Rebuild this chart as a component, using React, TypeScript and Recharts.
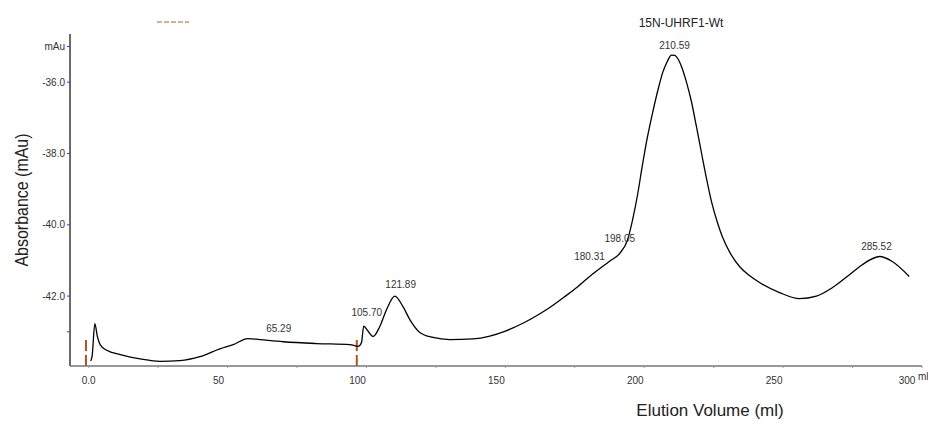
import React from 'react';
import { LineChart, Line, XAxis, YAxis, ReferenceLine, ReferenceDot } from 'recharts';

// UV trace, elution volume (ml) vs absorbance (mAu)
const volumes = [
  0.7, 1.2, 2.2, 3.1, 4.1, 6.5, 11.3, 18.5, 25.6, 32.8, 40, 47.2, 52, 57.3, 61.6, 70, 82, 94, 97, 98.2,
  99, 100.5, 102.4, 104.8, 107.2, 110.2, 113.1, 115.6, 119.2, 123.9, 130, 138.3, 144.4, 150, 156.3, 162.3,
  166, 172, 175.7, 181.4, 187.5, 191.2, 194, 195.8, 197.5, 199.4, 201, 203, 205, 206.6, 208.3, 209.8, 211,
  212, 213.5, 215.2, 217, 218.8, 220.6, 222.4, 224.3, 226.4, 228.2, 231, 234.3, 238, 241.5, 248.7, 255.9,
  262, 267.8, 273.9, 278.5, 284.7, 289.3, 295.4,
];
const absorbance = [
  -43.82, -43.69, -42.77, -43.13, -43.36, -43.52, -43.64, -43.76, -43.83, -43.81, -43.7, -43.48, -43.36,
  -43.19, -43.22, -43.28, -43.33, -43.36, -43.41, -43.3, -42.84, -42.98, -43.13, -42.85, -42.38, -42.0,
  -42.29, -42.66, -43.02, -43.16, -43.22, -43.2, -43.12, -42.98, -42.76, -42.5, -42.32, -41.98, -41.76,
  -41.38, -41.02, -40.8, -40.42, -39.86, -39.2, -38.3, -37.6, -36.86, -36.2, -35.74, -35.42, -35.24,
  -35.25, -35.33, -35.58, -36.0, -36.55, -37.25, -37.98, -38.7, -39.38, -39.95, -40.35, -40.8, -41.17,
  -41.43, -41.62, -41.9, -42.07, -42.0, -41.76, -41.4, -41.12, -40.89, -41.03, -41.45,
];

// peak annotations: where the text sits (ml, mAu) and what it says
const peakX = [68.4, 100.1, 112.3, 180.3, 191.2, 210.9, 283.6];
const peakY = [-42.91, -42.46, -41.68, -40.89, -40.39, -34.96, -40.61];
const peakText = ['65.29', '105.70', '121.89', '180.31', '198.05', '210.59', '285.52'];

// injection / fraction marks
const marks = [-1, 96.5];

const xTicks = [0, 25, 50, 75, 100, 125, 150, 175, 200, 225, 250, 275, 300];
const yTicks = [-43, -42, -40, -38, -36, -35];

const data = volumes.map((v, i) => ({ volume: v, mAu: absorbance[i] }));

const FONT = '"Liberation Sans", Arial, sans-serif';
const Y_MIN = -43.96;
const Y_MAX = -34.65;

const XTick = (props: any) => {
  const { x, y, payload } = props;
  const v = payload.value;
  if (v % 50 !== 0) return <g />;
  return (
    <text x={v === 0 ? x : x - 9} y={y + 14} textAnchor="middle" fontSize={10} fill="#333" fontFamily={FONT}>
      {v === 0 ? '0.0' : v}
    </text>
  );
};

const YTick = (props: any) => {
  const { x, y, payload } = props;
  const v = payload.value;
  const label = v === -35 ? 'mAu' : v === -43 ? '' : v.toFixed(1);
  return (
    <text x={x} y={y + 3.5} textAnchor="end" fontSize={10} fill="#333" fontFamily={FONT}>
      {label}
    </text>
  );
};

const abs = (style: React.CSSProperties): React.CSSProperties => ({
  position: 'absolute',
  whiteSpace: 'nowrap',
  color: '#222',
  fontFamily: FONT,
  pointerEvents: 'none',
  ...style,
});

export default function App() {
  return (
    <div
      style={{
        position: 'absolute',
        left: 0,
        top: 0,
        width: 928,
        height: 428,
        overflow: 'hidden',
        background: '#fff',
        fontFamily: FONT,
      }}
    >
      <LineChart width={928} height={428} data={data} margin={{ top: 34, right: 6, bottom: 0, left: 0 }}>
        <XAxis
          type="number"
          dataKey="volume"
          domain={[-6.75, 300]}
          ticks={xTicks}
          allowDataOverflow
          height={62}
          axisLine={{ stroke: '#767676', strokeWidth: 1.5 }}
          tickLine={{ stroke: '#9a9a9a' }}
          tickSize={2}
          tick={<XTick />}
        />
        <YAxis
          type="number"
          domain={[Y_MIN, Y_MAX]}
          ticks={yTicks}
          allowDataOverflow
          width={70}
          axisLine={{ stroke: '#6b6b6b', strokeWidth: 2 }}
          tickLine={{ stroke: '#3b3bd8' }}
          tickSize={3}
          tick={<YTick />}
        />
        {marks.map((m) => (
          <ReferenceLine
            key={m}
            segment={[
              { x: m, y: Y_MIN },
              { x: m, y: -43.17 },
            ]}
            stroke="#a65a1a"
            strokeWidth={2}
            strokeDasharray="11 4"
            ifOverflow="visible"
          />
        ))}
        <Line
          type="monotone"
          dataKey="mAu"
          stroke="#000"
          strokeWidth={1.3}
          dot={false}
          isAnimationActive={false}
        />
        {peakText.map((t, i) => (
          <ReferenceDot
            key={t}
            x={peakX[i]}
            y={peakY[i]}
            r={0}
            fill="none"
            stroke="none"
            ifOverflow="visible"
            label={{ value: t, position: 'center', fontSize: 10, fill: '#333', fontFamily: FONT }}
          />
        ))}
      </LineChart>

      <div style={abs({ left: 681, top: 23, fontSize: 12, transform: 'translate(-50%, -50%)' })}>15N-UHRF1-Wt</div>
      <svg style={{ position: 'absolute', left: 155, top: 18 }} width={36} height={8}>
        <line x1={2} y1={4} x2={34} y2={4} stroke="#c89a6a" strokeWidth={1.5} strokeDasharray="5 2" />
      </svg>
      <div
        style={abs({
          left: 22,
          top: 200,
          fontSize: 19,
          transform: 'translate(-50%, -50%) rotate(-90deg) scaleX(0.84)',
        })}
      >
        Absorbance (mAu)
      </div>
      <div style={abs({ left: 710, top: 411, fontSize: 17, transform: 'translate(-50%, -50%)' })}>
        Elution Volume (ml)
      </div>
      <div style={abs({ left: 918, top: 371, fontSize: 10, color: '#333' })}>ml</div>
    </div>
  );
}
